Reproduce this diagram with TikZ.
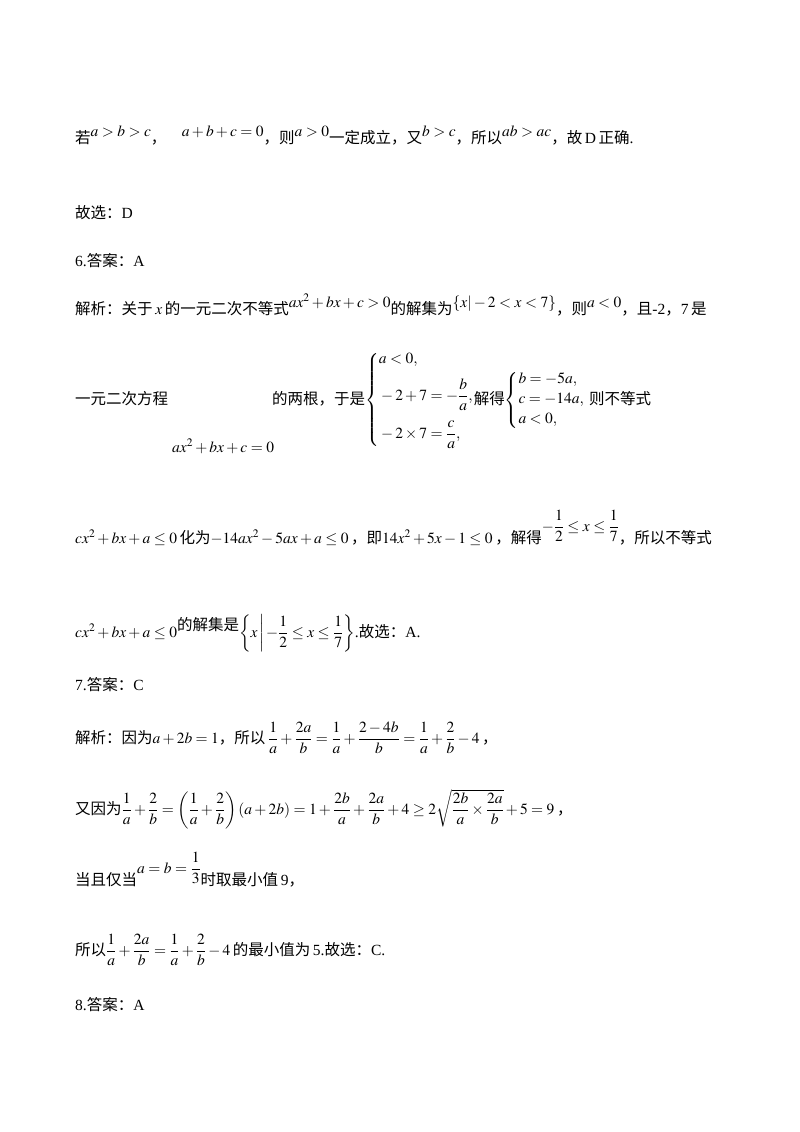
\documentclass[tikz,border=0pt]{standalone}
\usepackage{amsmath}
\usepackage{mathptmx}
\usepackage{fontspec}
\setmainfont{Liberation Serif}
\newfontfamily\cjk{Noto Sans CJK SC}
\tikzset{t/.style={anchor=base west,inner sep=0pt,font=\fontsize{15.5}{18}\selectfont}}
\newcommand{\zh}[1]{{\cjk\fontsize{15.5}{18}\selectfont #1}}
\newcommand{\up}[1]{\raisebox{7pt}{#1}}
\begin{document}
\begin{tikzpicture}[x=1pt,y=-1pt]
\useasboundingbox[fill=white] (0,0) rectangle (800,1132);
\node[t] (l1) at (75,143) {\zh{若}\up{$a>b>c$}\zh{，}\quad\up{$a+b+c=0$}\zh{，则}\up{$a>0$}\zh{一定成立，又}\up{$b>c$}\zh{，所以}\up{$ab>ac$}\zh{，故}\,D\,\zh{正确}.};
\node[t] (l2) at (75,218) {\zh{故选：}D};
\node[t] (l3) at (75,266) {6.\zh{答案：}A};
\node[t] (l4) at (75,314) {\zh{解析：关于}\,$x$\,\zh{的一元二次不等式}\up{$ax^2+bx+c>0$}\zh{的解集为}\up{$\{x|-2<x<7\}$}\zh{，则}\up{$a<0$}\zh{，且}-2\zh{，}7\,\zh{是}};
\node[t] (l5) at (75,404) {\zh{一元二次方程}\hspace{104pt}\zh{的两根，于是}$\left\{\begin{aligned}&a<0,\\[6pt]&-2+7=-\frac{b}{a},\\[6pt]&-2\times7=\frac{c}{a},\end{aligned}\right.$\zh{解得}$\left\{\begin{aligned}&b=-5a,\\[-1pt]&c=-14a,\\[-1pt]&a<0,\end{aligned}\right.$\ \zh{则不等式}};
\node[t] (l5b) at (172,452) {$ax^2+bx+c=0$};
\node[t] (l6) at (75,543) {$cx^2+bx+a\le0$\,\zh{化为}$-14ax^2-5ax+a\le0$\,\zh{，即}$14x^2+5x-1\le0$\,\zh{，解得}\raisebox{12pt}{$-\dfrac12\le x\le\dfrac17$}\zh{，所以不等式}};
\node[t] (l7) at (75,637) {$cx^2+bx+a\le0$\up{\zh{的解集是}}$\left\{x\,\middle|\,-\dfrac12\le x\le\dfrac17\right\}$.\zh{故选：}A.};
\node[t] (l8) at (75,690) {7.\zh{答案：}C};
\node[t] (l9) at (75,743) {\zh{解析：因为}$a+2b=1$\zh{，所以}\,$\dfrac1a+\dfrac{2a}{b}=\dfrac1a+\dfrac{2-4b}{b}=\dfrac1a+\dfrac2b-4$\,\zh{，}};
\node[t] (l10) at (75,814) {\zh{又因为}$\dfrac1a+\dfrac2b=\left(\dfrac1a+\dfrac2b\right)(a+2b)=1+\dfrac{2b}{a}+\dfrac{2a}{b}+4\ge2\sqrt{\dfrac{2b}{a}\times\dfrac{2a}{b}}+5=9$\,\zh{，}};
\node[t] (l11) at (75,885) {\zh{当且仅当}\raisebox{12pt}{$a=b=\dfrac13$}\zh{时取最小值}\,9\zh{，}};
\node[t] (l12) at (75,955) {\zh{所以}$\dfrac1a+\dfrac{2a}{b}=\dfrac1a+\dfrac2b-4$\,\zh{的最小值为}\,5.\zh{故选：}C.};
\node[t] (l13) at (75,1010) {8.\zh{答案：}A};
\end{tikzpicture}
\end{document}
